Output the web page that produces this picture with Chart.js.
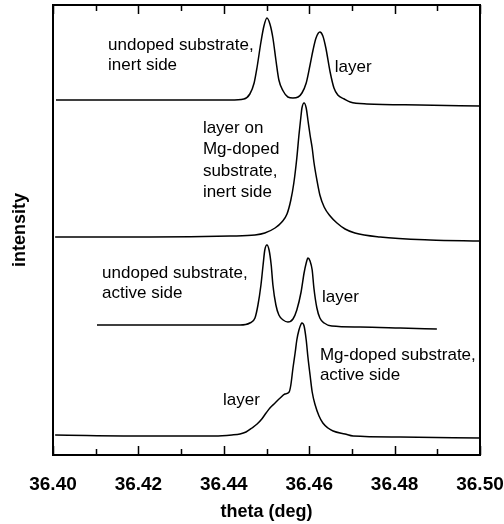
<!DOCTYPE html>
<html>
<head>
<meta charset="utf-8">
<script src="https://cdn.jsdelivr.net/npm/chart.js@4/dist/chart.umd.min.js"></script>
<style>
  html, body { margin: 0; padding: 0; background: #fff; }
  #c { display: block; }
</style>
</head>
<body>
<canvas id="c" width="504" height="524"></canvas>
<script>
// ---- data (theta in deg, intensity in arbitrary stacked units) ----
const theta1 = [36.4007,36.4227,36.4415,36.4447,36.4461,36.4471,36.4478,36.4487,36.4494,36.4501,36.4508,36.4515,36.4522,36.4529,36.4539,36.4550,36.4562,36.4574,36.4583,36.4593,36.4602,36.4609,36.4616,36.4625,36.4632,36.4639,36.4649,36.4658,36.4667,36.4682,36.4696,36.4735,36.4859,36.5000];
const inten1 = [355,355,355,356,361,372,388,413,429,437,431,417,395,375,364,358,357,358,362,372,390,405,417,423,419,407,383,367,360,356,353,351,350,349];

const theta2 = [36.4005,36.4227,36.4415,36.4473,36.4496,36.4520,36.4536,36.4548,36.4557,36.4564,36.4571,36.4576,36.4581,36.4583,36.4588,36.4593,36.4597,36.4602,36.4607,36.4611,36.4618,36.4625,36.4635,36.4649,36.4665,36.4684,36.4707,36.4766,36.4883,36.5000];
const inten2 = [218,218,219,220,222,227,233,241,255,272,297,320,340,347,352,347,335,320,307,293,275,260,248,239,232,226,222,218,215,214];

const theta3 = [36.4103,36.4344,36.4438,36.4461,36.4473,36.4480,36.4487,36.4492,36.4496,36.4501,36.4506,36.4511,36.4515,36.4522,36.4529,36.4539,36.4550,36.4562,36.4571,36.4581,36.4588,36.4593,36.4597,36.4602,36.4607,36.4611,36.4618,36.4625,36.4635,36.4653,36.4719,36.4813,36.4899];
const inten3 = [130,130,130,132,137,150,170,190,205,210,205,190,170,150,140,135,133,136,145,163,182,192,197,194,185,167,147,137,132,129,128,127,126];

const theta4 = [36.4005,36.4227,36.4379,36.4419,36.4438,36.4452,36.4466,36.4478,36.4489,36.4499,36.4508,36.4520,36.4532,36.4543,36.4553,36.4557,36.4562,36.4567,36.4571,36.4576,36.4581,36.4583,36.4588,36.4593,36.4597,36.4602,36.4607,36.4614,36.4623,36.4632,36.4644,36.4656,36.4684,36.4703,36.4813,36.5000];
const inten4 = [20,19,19,20,21,23,27,31,36,42,47,52,57,61,63,70,87,102,115,125,131,132,129,115,98,80,63,50,39,32,27,24,21,19,18,17];

const xTicks = [36.40, 36.42, 36.44, 36.46, 36.48, 36.50];
const xMinorTicks = [36.41, 36.43, 36.45, 36.47, 36.49];

const notes = [
  { lines: ['undoped substrate,', 'inert side'], theta: 36.4129, inten: 410 },
  { lines: ['layer'], theta: 36.4660, inten: 388 },
  { lines: ['layer on', 'Mg-doped', 'substrate,', 'inert side'], theta: 36.4351, inten: 327 },
  { lines: ['undoped substrate,', 'active side'], theta: 36.4115, inten: 182 },
  { lines: ['layer'], theta: 36.4630, inten: 158 },
  { lines: ['Mg-doped substrate,', 'active side'], theta: 36.4625, inten: 100 },
  { lines: ['layer'], theta: 36.4398, inten: 55 }
];

const FONT = '"Liberation Sans", Arial, sans-serif';

function pts(t, v) { return t.map((x, i) => ({ x: x, y: v[i] })); }

const traceStyle = {
  borderColor: '#000', borderWidth: 1.5, pointRadius: 0, fill: false,
  cubicInterpolationMode: 'monotone'
};

const decor = {
  id: 'decor',
  afterDatasetsDraw(chart) {
    const ctx = chart.ctx;
    const xs = chart.scales.x, ys = chart.scales.y;
    const area = chart.chartArea;
    ctx.save();
    ctx.strokeStyle = '#000';
    ctx.lineWidth = 1.5;
    const drawTick = (v, len) => {
      const px = Math.round(xs.getPixelForValue(v)) + 0.5;
      ctx.beginPath();
      ctx.moveTo(px, area.top); ctx.lineTo(px, area.top + len);
      ctx.moveTo(px, area.bottom); ctx.lineTo(px, area.bottom - len);
      ctx.stroke();
    };
    xTicks.forEach(v => drawTick(v, 9));
    xMinorTicks.forEach(v => drawTick(v, 6));
    // annotations
    ctx.fillStyle = '#000';
    ctx.font = '17px ' + FONT;
    ctx.textAlign = 'left';
    ctx.textBaseline = 'middle';
    notes.forEach(n => {
      const x = xs.getPixelForValue(n.theta);
      const y = ys.getPixelForValue(n.inten);
      const lh = n.lines.length > 2 ? 21.5 : 20.5;
      n.lines.forEach((s, i) => ctx.fillText(s, x, y + i * lh));
    });
    ctx.restore();
  }
};

new Chart(document.getElementById('c'), {
  type: 'line',
  data: {
    datasets: [
      Object.assign({ label: 'undoped substrate, inert side', data: pts(theta1, inten1) }, traceStyle),
      Object.assign({ label: 'layer on Mg-doped substrate, inert side', data: pts(theta2, inten2) }, traceStyle),
      Object.assign({ label: 'undoped substrate, active side', data: pts(theta3, inten3) }, traceStyle),
      Object.assign({ label: 'Mg-doped substrate, active side', data: pts(theta4, inten4) }, traceStyle)
    ]
  },
  options: {
    responsive: false,
    animation: false,
    devicePixelRatio: 1,
    layout: { padding: 0 },
    plugins: { legend: { display: false }, tooltip: { enabled: false } },
    scales: {
      x: {
        type: 'linear', position: 'bottom', min: 36.40, max: 36.50,
        afterBuildTicks: s => { s.ticks = xTicks.map(v => ({ value: v })); },
        afterFit: s => { s.height = 69; s.paddingLeft = 0; s.paddingRight = 0; },
        grid: { display: false },
        border: { display: true, color: '#000', width: 2 },
        ticks: {
          color: '#000', padding: 10, maxRotation: 0, autoSkip: false,
          font: { family: FONT, size: 19, weight: 'bold' },
          callback: v => Number(v).toFixed(2)
        },
        title: {
          display: true, text: 'theta (deg)', color: '#000',
          font: { family: FONT, size: 18, weight: 'bold' },
          padding: { top: 0, bottom: 1 }
        }
      },
      x2: {
        type: 'linear', position: 'top', min: 36.40, max: 36.50,
        afterFit: s => { s.height = 5; s.paddingLeft = 0; s.paddingRight = 0; },
        grid: { display: false },
        border: { display: true, color: '#000', width: 2 },
        ticks: { display: false }
      },
      y: {
        type: 'linear', position: 'left', min: 0, max: 450,
        afterFit: s => { s.width = 53; s.paddingTop = 0; s.paddingBottom = 0; },
        grid: { display: false },
        border: { display: true, color: '#000', width: 2 },
        ticks: { display: false },
        title: {
          display: true, text: 'intensity', color: '#000',
          font: { family: FONT, size: 18, weight: 'bold' },
          padding: { top: 9, bottom: 0 }
        }
      },
      y2: {
        type: 'linear', position: 'right', min: 0, max: 450,
        afterFit: s => { s.width = 24; s.paddingTop = 0; s.paddingBottom = 0; },
        grid: { display: false },
        border: { display: true, color: '#000', width: 2 },
        ticks: { display: false }
      }
    }
  },
  plugins: [decor]
});
</script>
</body>
</html>
